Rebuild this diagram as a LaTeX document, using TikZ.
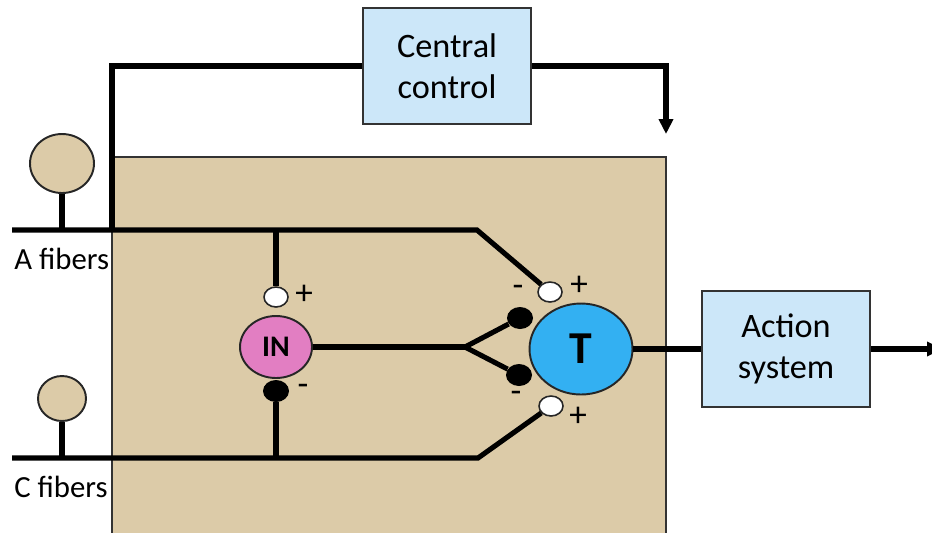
\documentclass[tikz,border=0pt]{standalone}
\usepackage{fontspec}
\setmainfont{Carlito}
\usetikzlibrary{positioning,arrows.meta,shapes.geometric}
\definecolor{horn}{RGB}{220,203,168}
\definecolor{boxblue}{RGB}{204,231,249}
\definecolor{inpink}{RGB}{226,126,194}
\definecolor{tblue}{RGB}{51,176,242}
\tikzset{%
  block/.style={draw=black!80, line width=1.1pt, fill=boxblue, rectangle, align=center,
    minimum width=3.36cm, minimum height=2.32cm, font=\fontsize{19.5}{23.5}\selectfont},% control / action boxes
  cell/.style={draw=black!85, line width=1.1pt, ellipse, inner sep=0pt},% interneuron and T cell
  soma/.style={draw=black!85, line width=1.1pt, ellipse, fill=horn},% fiber cell bodies
  excite/.style={draw=black!85, line width=0.9pt, ellipse, fill=white,
    minimum width=0.48cm, minimum height=0.4cm, inner sep=0pt},% open synapse (+)
  inhibit/.style={ellipse, fill=black, minimum width=0.52cm, minimum height=0.44cm,
    inner sep=0pt},% filled synapse (-)
  sign/.style={font=\fontsize{20}{20}\selectfont, inner sep=0pt},
  fibertext/.style={font=\fontsize{17.5}{17.5}\selectfont, anchor=west, inner sep=0pt},
  fiber/.style={line width=2.9pt, black}
}

\begin{document}
\begin{tikzpicture}[x=0.02cm, y=-0.02cm]
\useasboundingbox (0,0) rectangle (932,532);

% dorsal horn
\fill[horn] (112,157) rectangle (666,545);
\draw[line width=1.1pt, black!80] (112,545) -- (112,157) -- (666,157) -- (666,545);

\node[block] (ctrl) at (447,66) {Central\\control};
\node[block] (act) at (786,349) {Action\\system};

\node[cell, fill=inpink, minimum width=1.44cm, minimum height=1.24cm,
  font=\fontsize{17}{17}\selectfont\bfseries] (in) at (276,347) {IN};
\node[cell, fill=tblue, minimum width=2.06cm, minimum height=1.82cm,
  font=\fontsize{26}{26}\selectfont\bfseries] (t) at (581,349) {T};

% synapses
\node[excite] (ina) at (276,297) {};
\node[inhibit] (inc) at (276,391) {};
\node[inhibit] (tup) at (520,318) {};
\node[inhibit] (tdown) at (519,375) {};
\node[excite] (ta) at (550,292) {};
\node[excite] (tc) at (551,406) {};

\node[sign] (inplus) at (304,295) {+};
\node[sign] (inminus) at (303,390) {-};
\node[sign] (tupminus) at (518,291) {-};
\node[sign] (tdownminus) at (516,397) {-};
\node[sign] (taplus) at (579,286) {+};
\node[sign] (tcplus) at (578,417) {+};

% fibers
\node[soma, minimum width=1.28cm, minimum height=1.18cm] (asoma) at (62,163.5) {};
\node[soma, minimum width=0.96cm, minimum height=0.9cm] (csoma) at (62,398.5) {};
\node[fibertext] (alabel) at (14,259) {A fibers};
\node[fibertext] (clabel) at (14,487) {C fibers};

\coordinate (a0) at (12,230);
\coordinate (c0) at (12,458);
\coordinate (ajoin) at (276,230);
\coordinate (cjoin) at (276,458);
\coordinate (abend) at (477,230);
\coordinate (cbend) at (478,458);
\coordinate (fork) at (465,347);
\coordinate (top) at (112,230);
\coordinate (entry) at (666,134);
\coordinate (out) at (942,349);

\draw[fiber] (asoma) -- (asoma |- a0);
\draw[fiber] (csoma) -- (csoma |- c0);
\draw[fiber] (a0) -- (abend) -- (ta);
\draw[fiber] (c0) -- (cbend) -- (tc);
\draw[fiber] (ajoin) -- (ina);
\draw[fiber] (inc) -- (cjoin);
\draw[fiber] (in) -- (fork);
\draw[fiber] (tup) -- (fork) -- (tdown);

\draw[fiber] (ctrl.west) -| (top);
\draw[fiber, -{Triangle[width=0.28cm, length=0.3cm]}] (ctrl.east) -| (entry);

\draw[fiber] (t) -- (act);
\draw[fiber, -{Triangle[width=0.28cm, length=0.3cm]}] (act) -- (out);

\end{tikzpicture}
\end{document}
